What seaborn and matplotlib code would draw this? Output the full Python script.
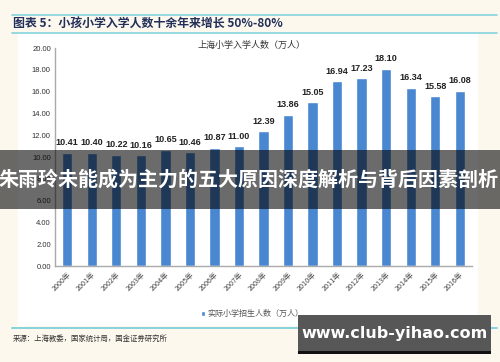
import matplotlib
matplotlib.use("Agg")
import matplotlib.pyplot as plt
import pandas as pd
import seaborn as sns
from matplotlib.patches import Rectangle
from matplotlib.lines import Line2D

# data
years = ["2000年", "2001年", "2002年", "2003年", "2004年", "2005年", "2006年", "2007年", "2008年",
         "2009年", "2010年", "2011年", "2012年", "2013年", "2014年", "2015年", "2016年"]
enrolment = [10.41, 10.40, 10.22, 10.16, 10.65, 10.46, 10.87, 11.00, 12.39,
             13.86, 15.05, 16.94, 17.23, 18.10, 16.34, 15.58, 16.08]
y_ticks = [0, 2, 4, 6, 8, 10, 12, 14, 16, 18, 20]

header = "图表 5：小孩小学入学人数十余年来增长 50%-80%"
chart_title = "上海小学入学人数（万人）"
legend_label = "实际小学招生人数（万人）"
source = "来源：上海教委，国家统计局，国金证券研究所"
banner = "朱雨玲未能成为主力的五大原因深度解析与背后因素剖析"
watermark = "www.club-yihao.com"

sns.set_theme(style="white")
plt.rcParams["font.family"] = ["Noto Sans CJK SC", "DejaVu Sans"]

bar_color = "#4a87d1"
cyan = "#84d3de"

df = pd.DataFrame({"year": years, "value": enrolment})

fig = plt.figure(figsize=(5.0, 3.62), dpi=100, facecolor="#fdf8ee")

# white panel behind the chart
fig.patches.append(Rectangle((0.036, 0.10), 0.92, 0.81, transform=fig.transFigure,
                             facecolor="white", edgecolor="none", zorder=-1))

ax = fig.add_axes([0.11, 0.265, 0.834, 0.602])
ax.set_facecolor("white")
sns.barplot(data=df, x="year", y="value", color=bar_color, width=0.42,
            saturation=1, ax=ax, label=legend_label)
ax.set_xlim(-0.5, len(years) - 0.5)
ax.set_ylim(0, 20)
ax.set_yticks(y_ticks)
ax.set_yticklabels([f"{v:.2f}" for v in y_ticks], fontsize=5.5, color="#333333",
                   family="Liberation Sans")
ax.set_xticks(range(len(years)))
ax.set_xticklabels(years, rotation=45, ha="right", rotation_mode="anchor",
                   fontsize=5.2, color="#444444")
ax.tick_params(axis="both", length=0, pad=3)
ax.set_xlabel("")
ax.set_ylabel("")
for side in ["top", "right"]:
    ax.spines[side].set_visible(False)
for side in ["left", "bottom"]:
    ax.spines[side].set_color("#aaaaaa")
    ax.spines[side].set_linewidth(1.0)

ax.bar_label(ax.containers[0], labels=[f"{v:.2f}" for v in enrolment],
             padding=4, fontsize=6.5, fontweight="bold", color="#222222",
             family="Liberation Sans")

leg = ax.legend(loc="upper center", bbox_to_anchor=(0.473, -0.165), frameon=False,
                fontsize=5.8, handlelength=0.6, handleheight=0.6, handletextpad=0.3)
for t in leg.get_texts():
    t.set_color("#555555")

fig.text(0.502, 0.875, chart_title, ha="center", va="center", fontsize=6.5, color="#333333")

# header and rules
fig.text(0.026, 0.934, header, ha="left", va="center", fontsize=8.6,
         fontweight="bold", fontstyle="italic", color="#22305a")
fig.add_artist(Line2D([0.024, 0.994], [0.958, 0.958], transform=fig.transFigure,
                      color=cyan, lw=1.2))
fig.add_artist(Line2D([0.024, 0.994], [0.909, 0.909], transform=fig.transFigure,
                      color=cyan, lw=1.2))
fig.add_artist(Line2D([0.024, 0.994], [0.094, 0.094], transform=fig.transFigure,
                      color=cyan, lw=1.4))
fig.text(0.026, 0.064, source, ha="left", va="center", fontsize=5.3, color="#333333")

# overlay banner
fig.patches.append(Rectangle((0, 0.423), 1, 0.163, transform=fig.transFigure,
                             facecolor="black", alpha=0.58, edgecolor="none", zorder=5))
fig.text(0.497, 0.505, banner, ha="center", va="center", fontsize=14.4,
         fontweight="bold", color="white", zorder=6)

# watermark box
fig.patches.append(Rectangle((0.596, 0.028), 0.386, 0.102, transform=fig.transFigure,
                             facecolor="#575757", edgecolor="none", zorder=5))
fig.patches.append(Rectangle((0.596, 0.022), 0.386, 0.008, transform=fig.transFigure,
                             facecolor="#111111", edgecolor="none", zorder=5))
fig.text(0.789, 0.08, watermark, ha="center", va="center", fontsize=11.5,
         fontweight="bold", color="white", family="DejaVu Sans", zorder=6)

fig.savefig("out.png", dpi=100, facecolor=fig.get_facecolor())
